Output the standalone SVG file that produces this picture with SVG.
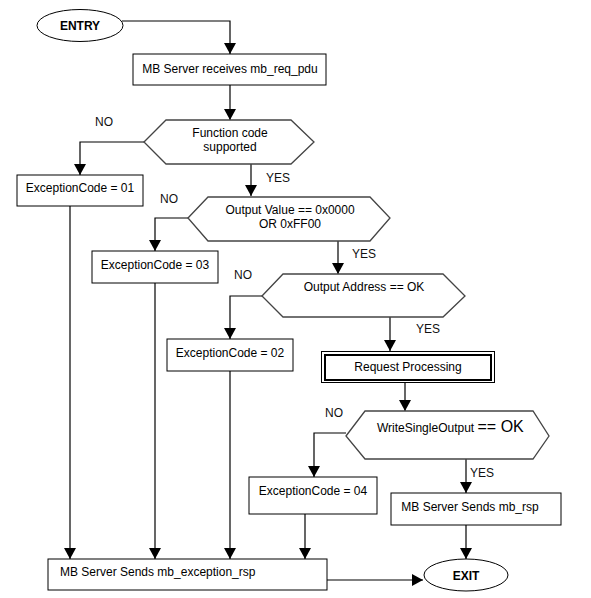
<svg xmlns="http://www.w3.org/2000/svg" width="591" height="598" viewBox="0 0 591 598">
<defs>
<marker id="ah" markerUnits="userSpaceOnUse" markerWidth="12" markerHeight="12" refX="11" refY="6" orient="auto">
<path d="M0,0 L11,6 L0,12 Z" fill="#000"/>
</marker>
</defs>
<style>
text{font-family:"Liberation Sans",Arial,sans-serif;font-size:12px;fill:#000}
.b{font-weight:bold}
.lbl{fill:#111}
.box{fill:#fff;stroke:#000;stroke-width:1}
.hex{fill:#fff;stroke:#444;stroke-width:1.3}
.c{fill:none;stroke:#000;stroke-width:1.2}
.a{marker-end:url(#ah)}
</style>
<rect width="591" height="598" fill="#fff"/>
<g id="connectors">
<polyline class="c a" points="122,21 230,21 230,54"/>
<line class="c a" x1="230" y1="85" x2="230" y2="120"/>
<polyline class="c a" points="144,142 80,142 80,175"/>
<line class="c a" x1="251" y1="164" x2="251" y2="196"/>
<polyline class="c a" points="188,218 155,218 155,251"/>
<line class="c a" x1="338" y1="241" x2="338" y2="274"/>
<polyline class="c a" points="262,296 230,296 230,339"/>
<line class="c a" x1="390" y1="317" x2="390" y2="351"/>
<line class="c a" x1="405" y1="383" x2="405" y2="411"/>
<polyline class="c a" points="346,433 314,433 314,477"/>
<line class="c a" x1="466" y1="459" x2="466" y2="493"/>
<line class="c a" x1="466" y1="525" x2="466" y2="559"/>
<line class="c a" x1="70" y1="206" x2="70" y2="559"/>
<line class="c a" x1="155" y1="283" x2="155" y2="559"/>
<line class="c a" x1="230" y1="371" x2="230" y2="559"/>
<line class="c a" x1="305" y1="514" x2="305" y2="559"/>
<line class="c a" x1="327" y1="580" x2="423" y2="580"/>
</g>
<g id="entry">
<ellipse cx="80" cy="25.5" rx="43" ry="16" class="box"/>
<text x="80" y="30" class="b" text-anchor="middle">ENTRY</text>
</g>
<g id="receive">
<rect x="133" y="54" width="193" height="31" class="box"/>
<text x="230" y="73" text-anchor="middle">MB Server receives mb_req_pdu</text>
</g>
<g id="dec1">
<polygon class="hex" points="144,142 166,120 291,120 314,142 291,164 166,164"/>
<text x="230" y="137" text-anchor="middle">Function code</text>
<text x="230" y="151" text-anchor="middle">supported</text>
</g>
<g id="exc01">
<rect x="17" y="175" width="126" height="31" class="box"/>
<text x="80" y="192" text-anchor="middle">ExceptionCode = 01</text>
</g>
<g id="dec2">
<polygon class="hex" points="188,218 208,197 370,197 390,218 370,241 208,241"/>
<text x="290" y="214" text-anchor="middle">Output Value == 0x0000</text>
<text x="290" y="228" text-anchor="middle">OR 0xFF00</text>
</g>
<g id="exc03">
<rect x="92" y="251" width="126" height="32" class="box"/>
<text x="155" y="269" text-anchor="middle">ExceptionCode = 03</text>
</g>
<g id="dec3">
<polygon class="hex" points="262,296 283,274 443,274 465,296 443,317 283,317"/>
<text x="364" y="291" text-anchor="middle">Output Address == OK</text>
</g>
<g id="exc02">
<rect x="167" y="339" width="126" height="32" class="box"/>
<text x="230" y="357" text-anchor="middle">ExceptionCode = 02</text>
</g>
<g id="process">
<rect x="321.5" y="351.5" width="173" height="31" fill="#fff" stroke="#000" stroke-width="1"/>
<rect x="325" y="355" width="166" height="25" fill="none" stroke="#000" stroke-width="2"/>
<text x="408" y="371" text-anchor="middle">Request Processing</text>
</g>
<g id="dec4">
<polygon class="hex" points="346,436 365,411 533,411 549,436 533,459 365,459"/>
<text x="377" y="432">WriteSingleOutput <tspan font-size="16">== OK</tspan></text>
</g>
<g id="exc04">
<rect x="249" y="477" width="128" height="37" class="box"/>
<text x="313" y="495" text-anchor="middle">ExceptionCode = 04</text>
</g>
<g id="sendrsp">
<rect x="391" y="493" width="170" height="32" class="box"/>
<text x="470" y="511" text-anchor="middle">MB Server Sends mb_rsp</text>
</g>
<g id="sendexc">
<rect x="48" y="559" width="279" height="31" class="box"/>
<text x="60" y="576">MB Server Sends mb_exception_rsp</text>
</g>
<g id="exit">
<ellipse cx="466" cy="575" rx="42" ry="16" class="box"/>
<text x="466" y="580" class="b" text-anchor="middle">EXIT</text>
</g>
<g id="labels">
<text x="95" y="126" class="lbl">NO</text>
<text x="266" y="182" class="lbl">YES</text>
<text x="160" y="203" class="lbl">NO</text>
<text x="352" y="258" class="lbl">YES</text>
<text x="234" y="279" class="lbl">NO</text>
<text x="416" y="333" class="lbl">YES</text>
<text x="325" y="417" class="lbl">NO</text>
<text x="470" y="477" class="lbl">YES</text>
</g>
</svg>
